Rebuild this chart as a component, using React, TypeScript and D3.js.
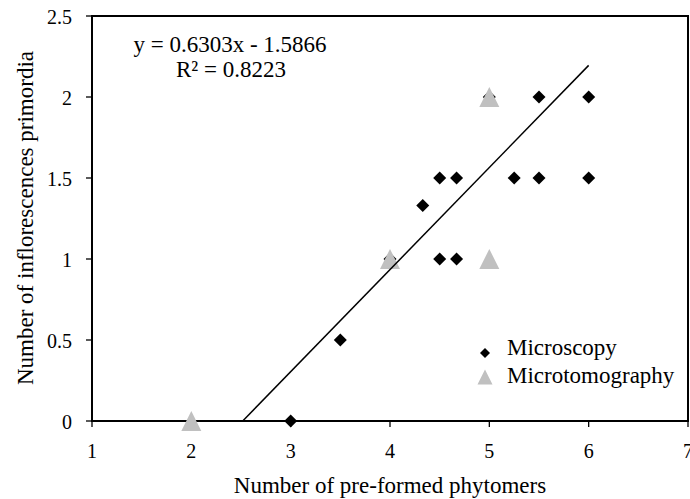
import React from "react";
import * as d3 from "d3";

const microscopyX = [3, 3.5, 4, 4.33, 4.5, 4.67, 4.5, 4.67, 5, 5.25, 5.5, 5.5, 6, 6];
const microscopyY = [0, 0.5, 1, 1.33, 1.5, 1.5, 1, 1, 2, 1.5, 1.5, 2, 2, 1.5];
const tomographyX = [2, 4, 5, 5];
const tomographyY = [0, 1, 2, 1];
const xTicks = [1, 2, 3, 4, 5, 6, 7];
const yTicks = [0, 0.5, 1, 1.5, 2, 2.5];
const slope = 0.6303;
const intercept = -1.5866;
const fitRange = [-intercept / slope, 6];

const W = 690;
const H = 499;
const FONT = "'Liberation Serif', 'Times New Roman', serif";

export default function App() {
  const x = d3.scaleLinear().domain([1, 7]).range([92, 688]);
  const y = d3.scaleLinear().domain([0, 2.5]).range([421, 16]);

  const diamond = (cx: number, cy: number, r: number) =>
    `M${cx},${cy - r}L${cx + r},${cy}L${cx},${cy + r}L${cx - r},${cy}Z`;
  const tri = (cx: number, cy: number, w: number, h: number) =>
    `M${cx},${cy - h / 2}L${cx + w / 2},${cy + h / 2}L${cx - w / 2},${cy + h / 2}Z`;

  const line = d3
    .line<number>()
    .x((d) => x(d))
    .y((d) => y(slope * d + intercept));

  return (
    <svg
      width={W}
      height={H}
      style={{ position: "absolute", left: 0, top: 0, background: "#fff" }}
      fontFamily={FONT}
    >
      <rect x={0} y={0} width={W} height={H} fill="#fff" />
      {/* frame */}
      <rect
        x={x(1)}
        y={y(2.5)}
        width={x(7) - x(1)}
        height={y(0) - y(2.5)}
        fill="none"
        stroke="#000"
        strokeWidth={2}
      />
      {/* y ticks */}
      {yTicks.map((t) => (
        <g key={"y" + t}>
          <line x1={x(1) - 6} x2={x(1)} y1={y(t)} y2={y(t)} stroke="#000" strokeWidth={1.3} />
          <text x={72} y={y(t) + 8} textAnchor="end" fontSize={20}>
            {t}
          </text>
        </g>
      ))}
      {/* x ticks */}
      {xTicks.map((t) => (
        <g key={"x" + t}>
          <line x1={x(t)} x2={x(t)} y1={y(0)} y2={y(0) + 6} stroke="#000" strokeWidth={1.3} />
          <text x={x(t)} y={458} textAnchor="middle" fontSize={20}>
            {t}
          </text>
        </g>
      ))}
      {/* axis titles */}
      <text x={390} y={493} textAnchor="middle" fontSize={23}>
        Number of pre-formed phytomers
      </text>
      <text
        transform={`translate(33,218) rotate(-90)`}
        textAnchor="middle"
        fontSize={23}
      >
        Number of inflorescences primordia
      </text>
      {/* points */}
      {microscopyX.map((d, i) => (
        <path key={"m" + i} d={diamond(x(d), y(microscopyY[i]), 6.5)} fill="#000" />
      ))}
      {tomographyX.map((d, i) => (
        <path key={"t" + i} d={tri(x(d), y(tomographyY[i]), 20, 20)} fill="#c0c0c0" />
      ))}
      {/* regression */}
      <path d={line(fitRange) || ""} stroke="#000" strokeWidth={1.5} fill="none" />
      {/* equation */}
      <text x={230} y={52} textAnchor="middle" fontSize={23}>
        y = 0.6303x - 1.5866
      </text>
      <text x={231} y={77} textAnchor="middle" fontSize={23}>
        R² = 0.8223
      </text>
      {/* legend */}
      <path d={diamond(485, 353, 5)} fill="#000" />
      <text x={507} y={355} fontSize={23}>
        Microscopy
      </text>
      <path d={tri(485, 377, 15, 15)} fill="#c0c0c0" />
      <text x={507} y={383} fontSize={23}>
        Microtomography
      </text>
    </svg>
  );
}
